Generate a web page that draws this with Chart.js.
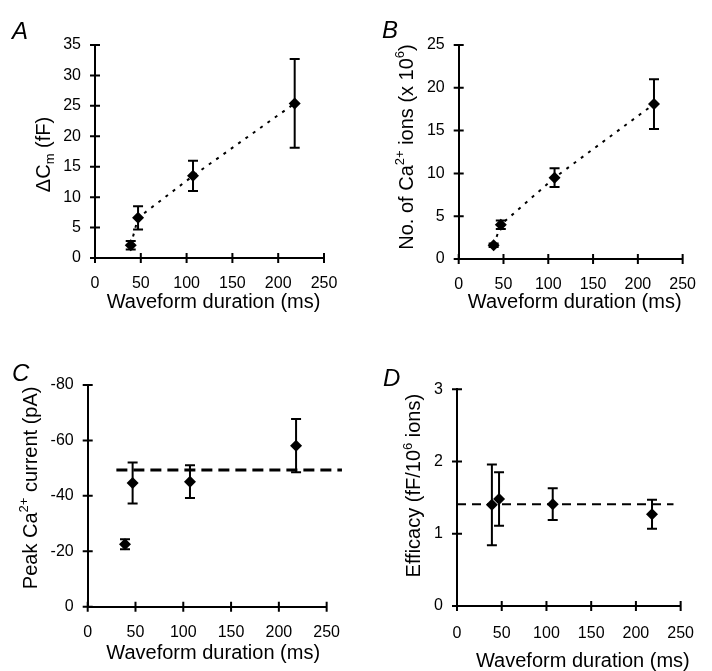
<!DOCTYPE html>
<html>
<head>
<meta charset="utf-8">
<script src="https://cdn.jsdelivr.net/npm/chart.js@4.4.1/dist/chart.umd.min.js"></script>
<style>
  html, body { margin: 0; padding: 0; background: #fff; }
  #wrap { position: relative; width: 712px; height: 671px; }
  canvas { position: absolute; }
</style>
</head>
<body>
<div id="wrap">
  <canvas id="chartA" width="356" height="335" style="left:0;top:0"></canvas>
  <canvas id="chartB" width="356" height="335" style="left:356px;top:0"></canvas>
  <canvas id="chartC" width="356" height="336" style="left:0;top:335px"></canvas>
  <canvas id="chartD" width="356" height="336" style="left:356px;top:335px"></canvas>
</div>
<script>
// waveform durations (ms), same for every panel
const durations = [39, 47, 107, 218];

// A - capacitance change (fF)
const deltaCm = [2.1, 6.6, 13.5, 25.4];
const deltaCmErr = [0.7, 1.9, 2.5, 7.3];

// B - number of Ca2+ ions (x 10^6)
const caIons = [1.6, 4.0, 9.5, 18.1];
const caIonsErr = [0.2, 0.5, 1.1, 2.9];

// C - peak Ca2+ current (pA), mean level drawn dashed
const peakCurrent = [-22.5, -44.6, -45.1, -58.1];
const peakCurrentErr = [1.8, 7.4, 5.9, 9.6];
const peakMeanX = [30, 266];
const peakMeanY = [-49.3, -49.3];

// D - efficacy (fF / 10^6 ions), mean level drawn dashed
const efficacy = [1.40, 1.48, 1.41, 1.27];
const efficacyErr = [0.56, 0.37, 0.22, 0.20];
const effMeanX = [0, 242];
const effMeanY = [1.41, 1.41];

// axis ranges [min, max, step]
const xRange = [0, 250, 50];
const yRangeA = [0, 35, 5];
const yRangeB = [0, 25, 5];
const yRangeC = [-80, 0, 20];
const yRangeD = [0, 3, 1];

const FONT = '"Liberation Sans", Arial, Helvetica, sans-serif';

// text made of pieces, some raised or lowered (Ca2+, 10^6, Cm)
function richWidth(ctx, parts, size) {
  let w = 0;
  parts.forEach(p => {
    const s = p.sup || p.sub ? size * 0.65 : size;
    ctx.font = s + 'px ' + FONT;
    w += ctx.measureText(p.t).width;
  });
  return w;
}
function drawRich(ctx, parts, size, x, y) {
  let cx = x;
  parts.forEach(p => {
    const s = p.sup || p.sub ? size * 0.65 : size;
    let dy = 0;
    if (p.sup) dy = -size * 0.42;
    if (p.sub) dy = size * 0.2;
    ctx.font = s + 'px ' + FONT;
    ctx.fillText(p.t, cx, y + dy);
    cx += ctx.measureText(p.t).width;
  });
}

const panelPlugin = {
  id: 'panel',
  afterDraw(chart, args, opts) {
    const ctx = chart.ctx;
    const area = chart.chartArea;
    const xs = chart.scales.x, ys = chart.scales.y;
    ctx.save();
    ctx.strokeStyle = '#000';
    ctx.fillStyle = '#000';

    // tick marks crossing the axis lines
    ctx.lineWidth = 2;
    ctx.beginPath();
    xs.ticks.forEach(t => {
      const px = xs.getPixelForValue(t.value);
      ctx.moveTo(px, area.bottom - 5);
      ctx.lineTo(px, area.bottom + 5);
    });
    ys.ticks.forEach(t => {
      const py = ys.getPixelForValue(t.value);
      ctx.moveTo(area.left - 5, py);
      ctx.lineTo(area.left + 5, py);
    });
    ctx.stroke();

    // error bars on the first dataset
    const meta = chart.getDatasetMeta(0);
    const ds = chart.data.datasets[0];
    ctx.lineWidth = 2;
    ctx.beginPath();
    meta.data.forEach((pt, i) => {
      const v = ds.data[i].y, e = opts.errors[i];
      const y1 = ys.getPixelForValue(v - e), y2 = ys.getPixelForValue(v + e);
      ctx.moveTo(pt.x, y1); ctx.lineTo(pt.x, y2);
      ctx.moveTo(pt.x - 5, y1); ctx.lineTo(pt.x + 5, y1);
      ctx.moveTo(pt.x - 5, y2); ctx.lineTo(pt.x + 5, y2);
    });
    ctx.stroke();

    // panel letter
    ctx.font = 'italic 24px ' + FONT;
    ctx.textBaseline = 'alphabetic';
    ctx.textAlign = 'left';
    ctx.fillText(opts.letter, opts.letterAt[0], opts.letterAt[1]);

    // x title
    const xw = richWidth(ctx, opts.xTitle, 20);
    drawRich(ctx, opts.xTitle, 20, (area.left + area.right) / 2 + opts.xTitleAt[0] - xw / 2, opts.xTitleAt[1]);

    // y title, rotated
    const yw = richWidth(ctx, opts.yTitle, 20);
    ctx.translate(area.left + opts.yTitleAt[0], (area.top + area.bottom) / 2 + opts.yTitleAt[1]);
    ctx.rotate(-Math.PI / 2);
    drawRich(ctx, opts.yTitle, 20, -yw / 2, 7);
    ctx.restore();
  }
};

const xTitle = [{ t: 'Waveform duration (ms)' }];

function makePanel(id, cfg) {
  const canvas = document.getElementById(id);
  const W = canvas.width, H = canvas.height;
  const points = durations.map((x, i) => ({ x: x, y: cfg.values[i] }));
  const datasets = [{
    data: points,
    pointStyle: 'rectRot',
    pointRadius: 6,
    backgroundColor: '#000',
    borderColor: '#000',
    borderWidth: 0,
    showLine: false
  }];
  if (cfg.line) datasets.push(Object.assign({
    borderColor: '#000',
    pointRadius: 0,
    showLine: true,
    clip: false
  }, cfg.line));

  const tickFont = { family: FONT, size: 16 };
  return new Chart(canvas, {
    type: 'scatter',
    data: { datasets: datasets },
    options: {
      responsive: false,
      animation: false,
      layout: { padding: { top: cfg.area.top, right: W - cfg.area.right, left: 0, bottom: 0 } },
      plugins: {
        legend: { display: false },
        tooltip: { enabled: false },
        panel: {
          errors: cfg.errors,
          letter: cfg.letter,
          letterAt: cfg.letterAt,
          xTitle: xTitle,
          xTitleAt: cfg.xTitleAt,
          yTitle: cfg.yTitle,
          yTitleAt: cfg.yTitleAt
        }
      },
      scales: {
        x: {
          type: 'linear',
          min: xRange[0], max: xRange[1],
          ticks: { stepSize: xRange[2], padding: cfg.xPad || 16, font: tickFont, color: '#000', autoSkip: false, maxRotation: 0 },
          grid: { display: false, drawTicks: false },
          border: { color: '#000', width: 2 },
          afterFit: s => { s.height = H - cfg.area.bottom; }
        },
        y: {
          type: 'linear',
          min: cfg.yRange[0], max: cfg.yRange[1],
          reverse: !!cfg.reverse,
          ticks: { stepSize: cfg.yRange[2], padding: 14, font: tickFont, color: '#000', autoSkip: false },
          grid: { display: false, drawTicks: false },
          border: { color: '#000', width: 2 },
          afterFit: s => { s.width = cfg.area.left; }
        }
      }
    },
    plugins: [panelPlugin]
  });
}

makePanel('chartA', {
  values: deltaCm, errors: deltaCmErr, yRange: yRangeA,
  area: { left: 95, top: 45, right: 324, bottom: 258 },
  line: { data: durations.map((x, i) => ({ x: x, y: deltaCm[i] })), borderDash: [3, 6], borderWidth: 2 },
  letter: 'A', letterAt: [12, 39],
  xTitleAt: [4, 308],
  yTitle: [{ t: '\u0394C' }, { t: 'm', sub: true }, { t: ' (fF)' }],
  yTitleAt: [-52, 3]
});

makePanel('chartB', {
  values: caIons, errors: caIonsErr, yRange: yRangeB,
  area: { left: 102.7, top: 45, right: 334.3, bottom: 259 },
  line: { data: durations.map((x, i) => ({ x: x, y: caIons[i] })), borderDash: [3, 6], borderWidth: 2 },
  letter: 'B', letterAt: [26, 38],
  xTitleAt: [4, 308],
  yTitle: [{ t: 'No. of Ca' }, { t: '2+', sup: true }, { t: ' ions (x 10' }, { t: '6', sup: true }, { t: ')' }],
  yTitleAt: [-53, -5]
});

makePanel('chartC', {
  values: peakCurrent, errors: peakCurrentErr, yRange: yRangeC, reverse: true,
  area: { left: 87.7, top: 50, right: 331, bottom: 271.7 },
  line: { data: peakMeanX.map((x, i) => ({ x: x, y: peakMeanY[i] })), borderDash: [11, 6], borderWidth: 3 },
  letter: 'C', letterAt: [12, 46],
  xTitleAt: [6, 324],
  yTitle: [{ t: 'Peak Ca' }, { t: '2+', sup: true }, { t: ' current (pA)' }],
  yTitleAt: [-58, -8]
});

makePanel('chartD', {
  values: efficacy, errors: efficacyErr, yRange: yRangeD,
  area: { left: 101, top: 54.3, right: 340.7, bottom: 271 },
  line: { data: effMeanX.map((x, i) => ({ x: x, y: effMeanY[i] })), borderDash: [9, 6], borderWidth: 2 },
  letter: 'D', letterAt: [27, 51],
  xPad: 18,
  xTitleAt: [14, 332],
  yTitle: [{ t: 'Efficacy (fF/10' }, { t: '6', sup: true }, { t: ' ions)' }],
  yTitleAt: [-44, -12]
});
</script>
</body>
</html>
